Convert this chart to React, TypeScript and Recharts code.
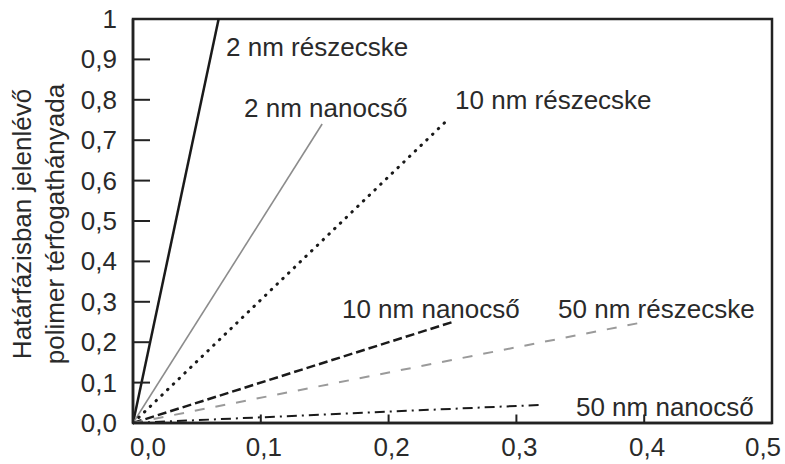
import React from 'react';
import { LineChart, Line, XAxis, YAxis, ReferenceArea, ReferenceDot } from 'recharts';

// series: every curve starts at the origin and runs straight to its end point
const seriesNames = ['2 nm részecske', '2 nm nanocső', '10 nm részecske', '10 nm nanocső', '50 nm részecske', '50 nm nanocső'];
const endX = [0.067, 0.148, 0.246, 0.25, 0.4, 0.32];
const endY = [1, 0.74, 0.75, 0.25, 0.25, 0.045];

const xTicks = [0, 0.1, 0.2, 0.3, 0.4, 0.5];
const yTicks = [0, 0.1, 0.2, 0.3, 0.4, 0.5, 0.6, 0.7, 0.8, 0.9, 1];

const yTitle = ['Határfázisban jelenlévő', 'polimer térfogathányada'];

// where each series name sits (data units, left edge / vertical centre)
const annotations = [
  { x: 0.0728, y: 0.931 },
  { x: 0.0869, y: 0.78 },
  { x: 0.252, y: 0.8 },
  { x: 0.1635, y: 0.283 },
  { x: 0.3326, y: 0.283 },
  { x: 0.3466, y: 0.04 },
];

const lineStyles = [
  { stroke: '#1a1a1a', strokeWidth: 2.5, strokeDasharray: undefined, strokeLinecap: 'butt' },
  { stroke: '#8c8c8c', strokeWidth: 1.6, strokeDasharray: undefined, strokeLinecap: 'butt' },
  { stroke: '#1a1a1a', strokeWidth: 3, strokeDasharray: '0.5 7.5', strokeLinecap: 'round' },
  { stroke: '#1a1a1a', strokeWidth: 2.5, strokeDasharray: '9 4', strokeLinecap: 'butt' },
  { stroke: '#9a9a9a', strokeWidth: 2, strokeDasharray: '10 11', strokeLinecap: 'butt' },
  { stroke: '#1a1a1a', strokeWidth: 2, strokeDasharray: '10 5 2 5', strokeLinecap: 'butt' },
];

const FONT = '"Liberation Sans", Arial, sans-serif';
const TEXT = '#2a2a2a';

const fmt = (v: number) => (v === 1 ? '1' : v.toFixed(1).replace('.', ','));

const YTick = (props: any) => {
  const { x, y, payload } = props;
  const v = payload.value;
  return (
    <g>
      {v > 0 && v < 1 && <line x1={x} x2={x + 17} y1={y} y2={y} stroke="#222" strokeWidth={2} />}
      <text x={117} y={y + 9} textAnchor="end" fontSize={26} fill={TEXT} fontFamily={FONT}>
        {fmt(v)}
      </text>
    </g>
  );
};

const XTick = (props: any) => {
  const { x, y, payload } = props;
  const v = payload.value;
  const dx = v === 0 ? 15 : v === 0.5 ? -9 : 3;
  return (
    <g>
      {v > 0 && v < 0.5 && <line x1={x} x2={x} y1={y} y2={y - 8.5} stroke="#222" strokeWidth={2} />}
      <text x={x + dx} y={456} textAnchor="middle" fontSize={26} fill={TEXT} fontFamily={FONT}>
        {v.toFixed(1).replace('.', ',')}
      </text>
    </g>
  );
};

const YTitle = (props: any) => {
  const { viewBox } = props;
  const cy = viewBox.y + viewBox.height / 2 + 3;
  const xs = [22, 55];
  return (
    <g>
      {yTitle.map((t, i) => (
        <text
          key={t}
          x={xs[i]}
          y={cy}
          transform={`rotate(-90, ${xs[i]}, ${cy})`}
          textAnchor="middle"
          dominantBaseline="central"
          fontSize={26}
          fill={TEXT}
          fontFamily={FONT}
        >
          {t}
        </text>
      ))}
    </g>
  );
};

const App: React.FC = () => {
  return (
    <div style={{ position: 'absolute', left: 0, top: 0, background: '#fff' }}>
      <LineChart width={785} height={464} margin={{ top: 19, right: 13, bottom: 0, left: 0 }}>
        <XAxis
          dataKey="x"
          type="number"
          domain={[0, 0.5]}
          ticks={xTicks}
          allowDataOverflow
          height={41}
          tickSize={0}
          tickMargin={0}
          tickLine={false}
          axisLine={{ stroke: '#222', strokeWidth: 2.5 }}
          tick={<XTick />}
          interval={0}
        />
        <YAxis
          type="number"
          domain={[0, 1]}
          ticks={yTicks}
          width={133}
          tickSize={0}
          tickMargin={0}
          tickLine={false}
          axisLine={{ stroke: '#222', strokeWidth: 2.5 }}
          tick={<YTick />}
          interval={0}
          label={{ content: <YTitle /> }}
        />
        <ReferenceArea x1={0} x2={0.5} y1={0} y2={1} fill="none" stroke="#222" strokeWidth={2.5} fillOpacity={0} />
        {seriesNames.map((name, i) => (
          <Line
            key={name}
            name={name}
            data={[
              { x: 0, y: 0 },
              { x: endX[i], y: endY[i] },
            ]}
            dataKey="y"
            type="linear"
            dot={false}
            activeDot={false}
            isAnimationActive={false}
            stroke={lineStyles[i].stroke}
            strokeWidth={lineStyles[i].strokeWidth}
            strokeDasharray={lineStyles[i].strokeDasharray}
            strokeLinecap={lineStyles[i].strokeLinecap as any}
          />
        ))}
        {seriesNames.map((name, i) => (
          <ReferenceDot
            key={'lbl' + name}
            x={annotations[i].x}
            y={annotations[i].y}
            r={0}
            fill="none"
            stroke="none"
            label={(p: any) => (
              <text
                x={p.viewBox.x}
                y={p.viewBox.y}
                dominantBaseline="central"
                fontSize={26}
                fill={TEXT}
                fontFamily={FONT}
              >
                {name}
              </text>
            )}
          />
        ))}
      </LineChart>
    </div>
  );
};

export default App;
